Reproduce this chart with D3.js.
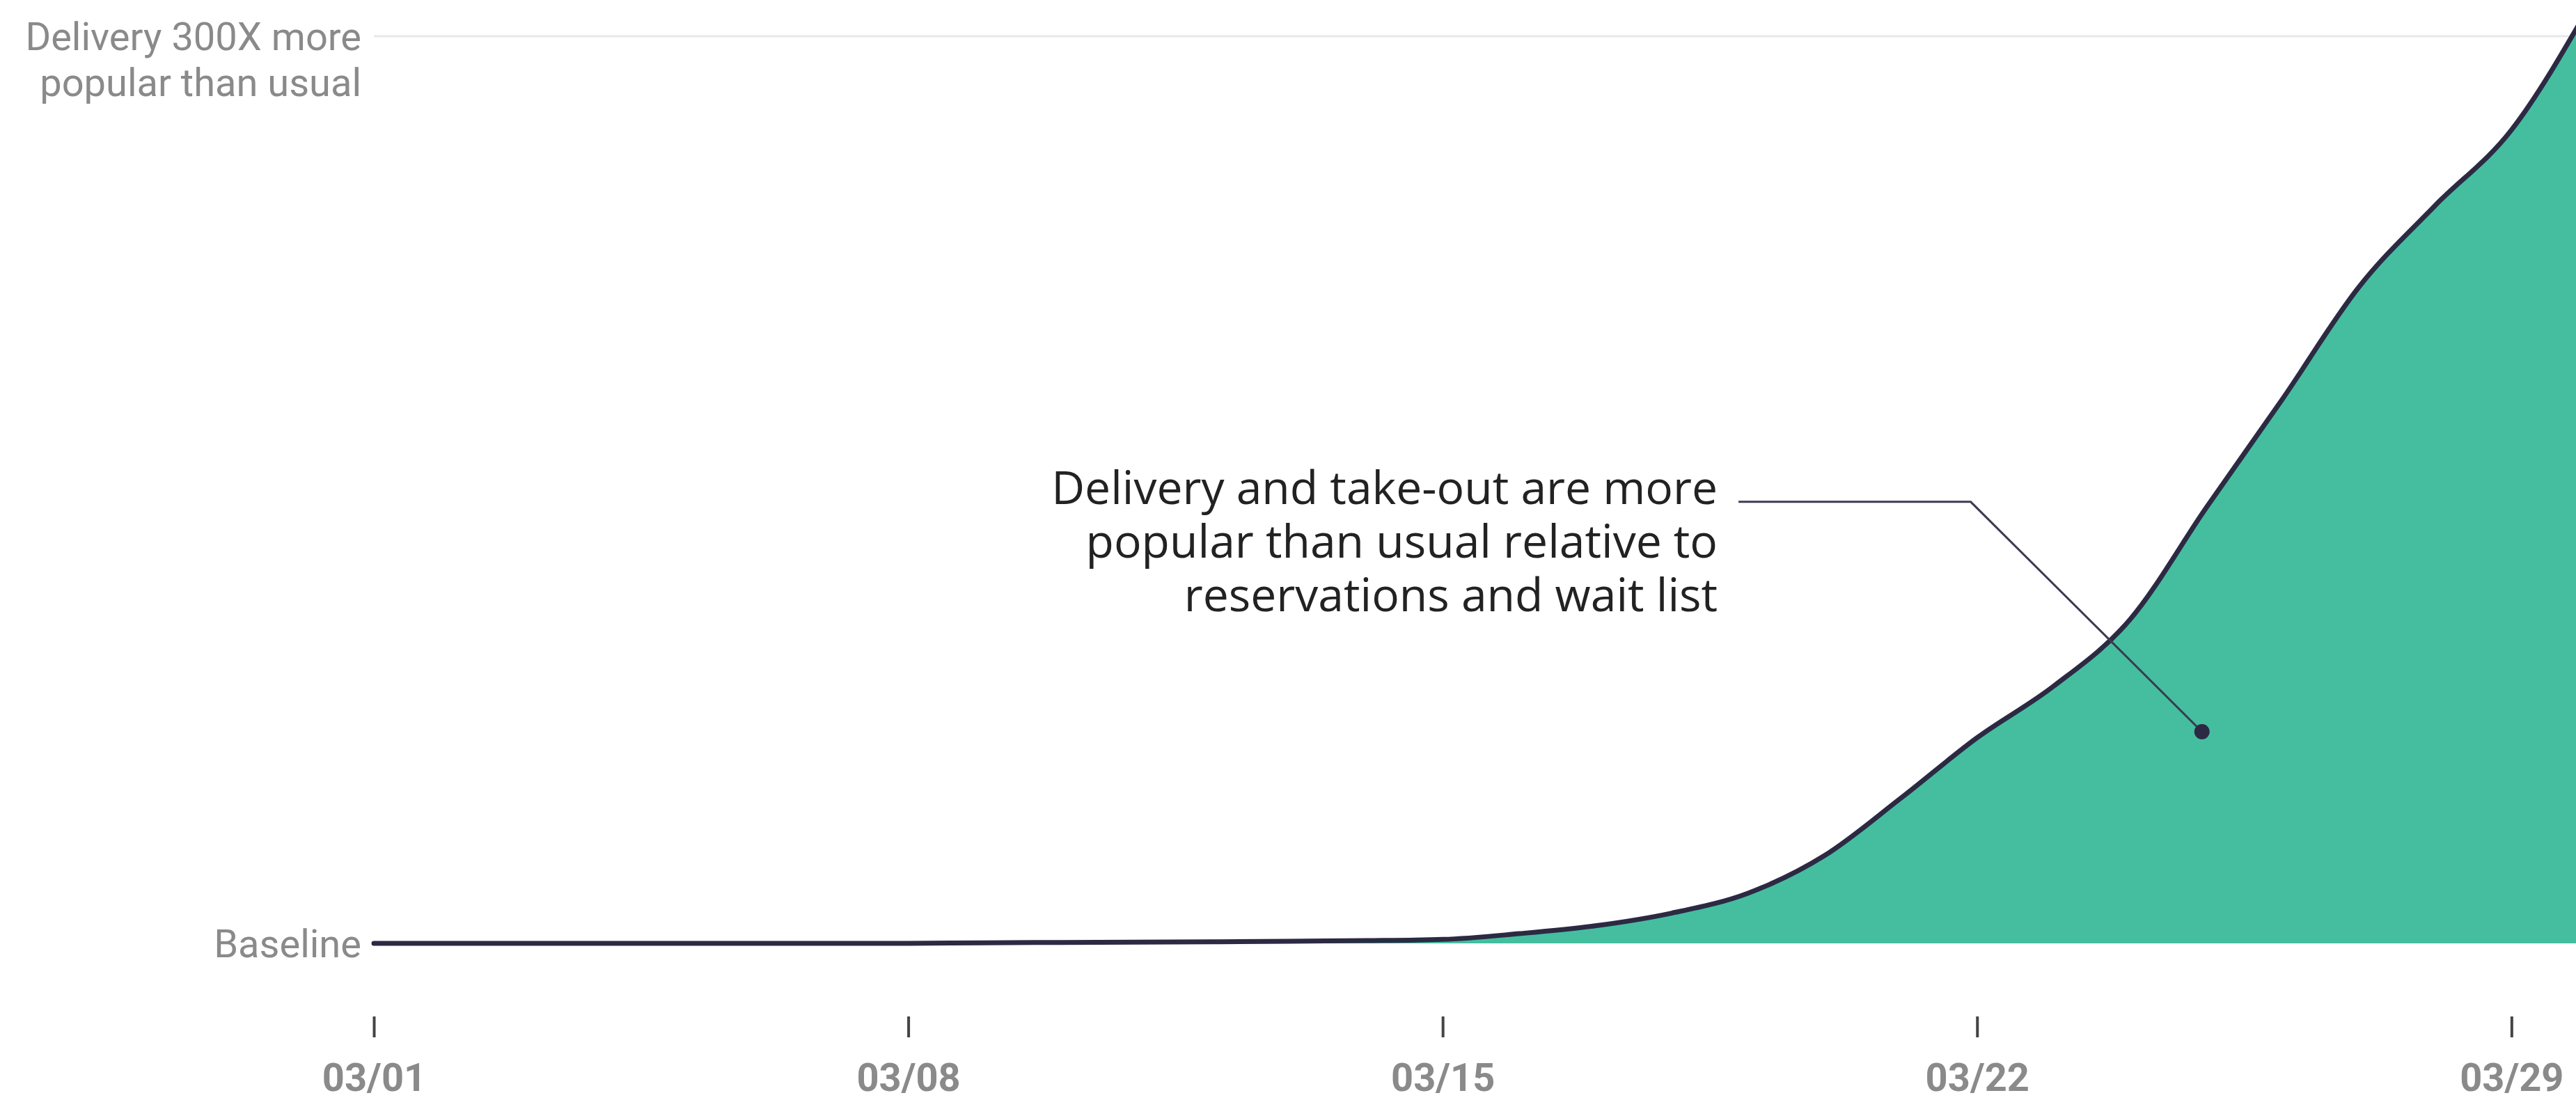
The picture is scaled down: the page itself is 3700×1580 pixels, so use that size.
<!DOCTYPE html>
<html>
<head>
<meta charset="utf-8">
<script src="https://cdn.jsdelivr.net/npm/d3@7"></script>
<style>
  html, body { margin: 0; padding: 0; background: #ffffff; }
  svg { display: block; }
</style>
</head>
<body>
<svg id="chart" width="3700" height="1580"></svg>
<script>
// ---- data ----
const dates = ["2020-03-01","2020-03-02","2020-03-03","2020-03-04","2020-03-05","2020-03-06","2020-03-07",
  "2020-03-08","2020-03-09","2020-03-10","2020-03-11","2020-03-12","2020-03-13","2020-03-14",
  "2020-03-15","2020-03-16","2020-03-17","2020-03-18","2020-03-19","2020-03-20","2020-03-21",
  "2020-03-22","2020-03-23","2020-03-24","2020-03-25","2020-03-26","2020-03-27","2020-03-28",
  "2020-03-29","2020-03-30"];
const deliveryIndex = [0, 0, 0, 0, 0, 0, 0,
  0, 0.2, 0.3, 0.4, 0.5, 0.7, 0.9,
  1.3, 3.2, 5.8, 10, 16.6, 29, 48,
  68, 85, 107, 144, 180, 217, 244,
  269, 309];
const xTickDates = ["2020-03-01","2020-03-08","2020-03-15","2020-03-22","2020-03-29"];
const yTickValues = [0, 300];
const yTickLabels = [["Baseline"], ["Delivery 300X more", "popular than usual"]];
const annotationLines = ["Delivery and take-out are more", "popular than usual relative to", "reservations and wait list"];

// ---- setup ----
const parse = d3.timeParse("%Y-%m-%d");
const data = dates.map((d, i) => ({ date: parse(d), value: deliveryIndex[i] }));

const svg = d3.select("#chart");
const x = d3.scaleTime()
  .domain([parse("2020-03-01"), parse("2020-03-30")])
  .range([537, 3717]);
const y = d3.scaleLinear().domain([0, 300]).range([1355, 52]);

const lineColor = "#2c2a43";
const fillColor = "#45bea0";

// top gridline
svg.append("line")
  .attr("x1", x(parse("2020-03-01"))).attr("x2", 3700)
  .attr("y1", y(300)).attr("y2", y(300))
  .attr("stroke", "#e8e8e8").attr("stroke-width", 3);

// area
const area = d3.area()
  .x(d => x(d.date))
  .y0(y(0))
  .y1(d => y(d.value))
  .curve(d3.curveMonotoneX);
svg.append("path").datum(data)
  .attr("d", area)
  .attr("fill", fillColor);

// line
const line = d3.line()
  .x(d => x(d.date))
  .y(d => y(d.value))
  .curve(d3.curveMonotoneX);
svg.append("path").datum(data)
  .attr("d", line)
  .attr("fill", "none")
  .attr("stroke", lineColor)
  .attr("stroke-width", 7)
  .attr("stroke-linecap", "round")
  .attr("stroke-linejoin", "round");

// y labels
yTickValues.forEach((v, i) => {
  const lines = yTickLabels[i];
  const t = svg.append("text")
    .attr("x", 519)
    .attr("text-anchor", "end")
    .attr("font-family", "Roboto, 'Liberation Sans', sans-serif")
    .attr("font-size", 56)
    .attr("fill", "#8a8a8a");
  lines.forEach((s, j) => {
    t.append("tspan").attr("x", 519).attr("y", y(v) + 20 + j * 66).text(s);
  });
});

// x axis
const xAxis = d3.axisBottom(x)
  .tickValues(xTickDates.map(parse))
  .tickFormat(d3.timeFormat("%m/%d"))
  .tickSize(30)
  .tickPadding(37);
const gx = svg.append("g").attr("transform", "translate(0,1460)").call(xAxis);
gx.select(".domain").remove();
gx.selectAll(".tick line").attr("stroke", "#444").attr("stroke-width", 4);
gx.selectAll(".tick text")
  .attr("font-family", "Roboto, 'Liberation Sans', sans-serif")
  .attr("font-size", 56)
  .attr("font-weight", "bold")
  .attr("fill", "#8a8a8a");

// annotation
const dotPt = [x(parse("2020-03-25")) - 6, y(70)];
const elbowX = x(d3.timeHour.offset(parse("2020-03-21"), 22.6));
const startX = x(d3.timeHour.offset(parse("2020-03-18"), 21.6));
const leaderY = y(146);
svg.append("polyline")
  .attr("points", [[startX, leaderY], [elbowX, leaderY], dotPt].map(p => p.join(",")).join(" "))
  .attr("fill", "none")
  .attr("stroke", "#3b3a50")
  .attr("stroke-width", 3);
svg.append("circle")
  .attr("cx", dotPt[0]).attr("cy", dotPt[1]).attr("r", 11)
  .attr("fill", lineColor);

const at = svg.append("text")
  .attr("text-anchor", "end")
  .attr("font-family", "'Open Sans', 'Noto Sans', sans-serif")
  .attr("font-size", 66)
  .attr("fill", "#222");
annotationLines.forEach((s, j) => {
  at.append("tspan").attr("x", startX - 30).attr("y", leaderY + 3 + j * 77).text(s);
});
</script>
</body>
</html>
